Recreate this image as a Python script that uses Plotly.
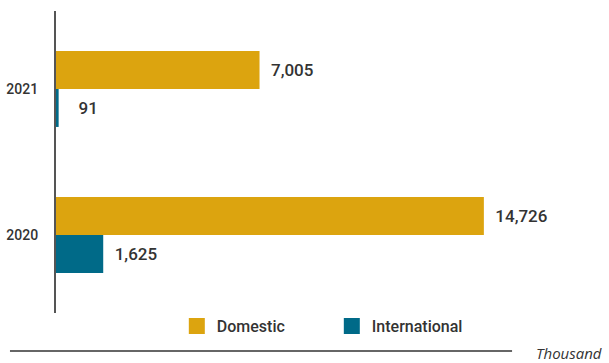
import plotly.graph_objects as go

years = ["2020", "2021"]
domestic = [14726, 7005]
international = [1625, 91]
series_names = ["Domestic", "International"]
colors = {"Domestic": "#DCA40F", "International": "#006A88"}
unit_label = "Thousand"

FONT = "Roboto, sans-serif"
TXT = "#333333"
NB = "\u00a0"


def label_templates(values):
    # small bars get a wider gap before the label, as in the original
    return [(NB * 4 if v < 500 else NB * 2) + "%{x:,}" for v in values]


fig = go.Figure()
# International first so that Domestic sits on top within each group
fig.add_trace(go.Bar(y=years, x=international, orientation="h", name="International",
                     marker=dict(color=colors["International"], line=dict(width=0)),
                     texttemplate=label_templates(international), textposition="outside",
                     outsidetextfont=dict(family=FONT, size=17, color=TXT, weight=500),
                     constraintext="none", cliponaxis=False, showlegend=False))
fig.add_trace(go.Bar(y=years, x=domestic, orientation="h", name="Domestic",
                     marker=dict(color=colors["Domestic"], line=dict(width=0)),
                     texttemplate=label_templates(domestic), textposition="outside",
                     outsidetextfont=dict(family=FONT, size=17, color=TXT, weight=500),
                     constraintext="none", cliponaxis=False, showlegend=False))

# legend entries with larger square symbols
for nm in series_names:
    fig.add_trace(go.Scatter(x=[None], y=[None], mode="markers", name=nm,
                             marker=dict(symbol="square", size=16, color=colors[nm]),
                             showlegend=True))

fig.update_layout(
    width=609, height=363,
    margin=dict(l=56, r=30, t=11, b=50, autoexpand=False),
    paper_bgcolor="white", plot_bgcolor="white",
    barmode="group", bargap=0.48, bargroupgap=0,
    showlegend=True,
    legend=dict(orientation="h", x=0.231, y=-0.043, xanchor="left", yanchor="middle",
                font=dict(family=FONT, size=16, color=TXT, weight=500),
                entrywidth=110, bgcolor="rgba(0,0,0,0)"),
    annotations=[dict(x=0.914, y=-0.132, xref="paper", yref="paper", text=unit_label,
                      showarrow=False, xanchor="left", yanchor="middle",
                      font=dict(family="Open Sans, sans-serif", size=15, color=TXT,
                                style="italic"))],
    shapes=[dict(type="line", xref="paper", yref="paper", x0=-0.088, x1=0.872,
                 y0=-0.1258, y1=-0.1258, line=dict(color="#666666", width=2))],
    xaxis=dict(range=[0, 18000], showticklabels=False, ticks="", showline=False,
               showgrid=False, zeroline=False, fixedrange=True),
    yaxis=dict(type="category", categoryorder="array", categoryarray=years,
               range=[-0.534, 1.534], showgrid=False, zeroline=False, automargin=False,
               showline=True, linecolor="#555555", linewidth=2,
               ticks="outside", ticklen=13, tickcolor="rgba(0,0,0,0)",
               tickfont=dict(family=FONT, size=14, color=TXT, weight=500)),
)

fig.write_html("out.html")
